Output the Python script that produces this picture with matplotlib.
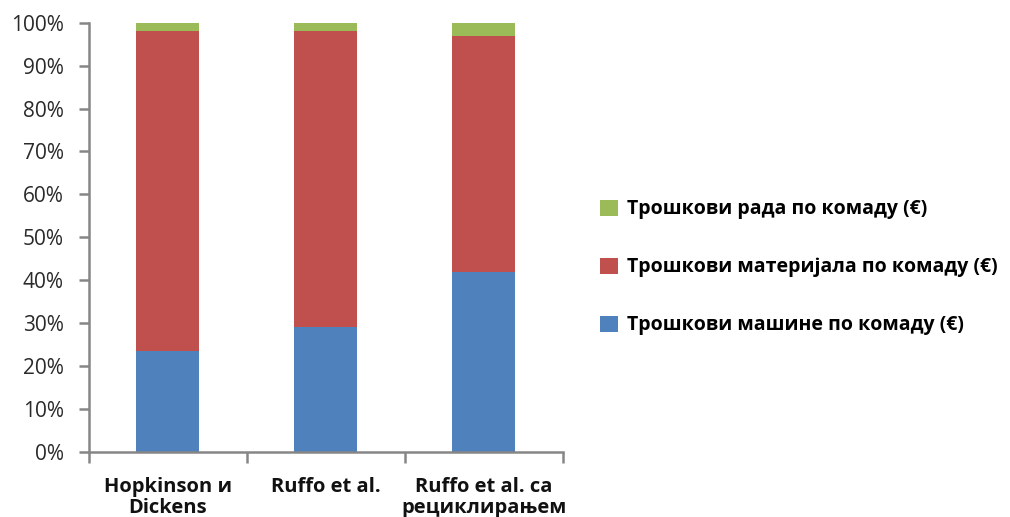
import matplotlib
matplotlib.use("Agg")
import matplotlib.pyplot as plt
from matplotlib.patches import Patch

categories = ["Hopkinson и\nDickens", "Ruffo et al.", "Ruffo et al. са\nрециклирањем"]
machine = [23.5, 29.0, 42.0]
material = [74.5, 69.0, 55.0]
labour = [2.0, 2.0, 3.0]
series_names = [
    "Трошкови машине по комаду (€)",
    "Трошкови материјала по комаду (€)",
    "Трошкови рада по комаду (€)",
]
colors = ["#4F81BD", "#C0504D", "#9BBB59"]
yticks = list(range(0, 101, 10))

plt.rcParams["font.family"] = ["Open Sans", "DejaVu Sans"]

fig = plt.figure(figsize=(10.10, 5.17), dpi=100)
ax = fig.add_axes([0.088, 0.126, 0.469, 0.830])

x = list(range(len(categories)))
bottom = [0.0] * len(categories)
for vals, col in zip([machine, material, labour], colors):
    ax.bar(x, vals, width=0.4, bottom=bottom, color=col, edgecolor="none", zorder=2)
    bottom = [b + v for b, v in zip(bottom, vals)]

ax.set_xlim(-0.5, len(categories) - 0.5)
ax.set_ylim(0, 100)
ax.set_yticks(yticks)
ax.set_yticklabels([f"{t}%" for t in yticks], fontsize=15, color="#2a2a2a")

# category boundaries as major ticks, names as minor ticks
ax.set_xticks([i - 0.5 for i in range(len(categories) + 1)])
ax.set_xticklabels([])
ax.set_xticks(x, minor=True)
ax.set_xticklabels(categories, minor=True, fontsize=14.5, fontweight="bold",
                   linespacing=1.05, color="#111111")
ax.tick_params(axis="x", which="minor", length=0, pad=18)
ax.tick_params(axis="x", which="major", length=8, width=1.8, color="#868686", direction="out")
ax.tick_params(axis="y", length=7, width=1.8, color="#868686", direction="out", pad=11)

for s in ["top", "right"]:
    ax.spines[s].set_visible(False)
for s in ["left", "bottom"]:
    ax.spines[s].set_color("#868686")
    ax.spines[s].set_linewidth(1.8)

handles = [Patch(facecolor=c, edgecolor="none") for c in colors][::-1]
labels = series_names[::-1]
fig.legend(handles, labels, loc="upper left", bbox_to_anchor=(0.577, 0.648),
           frameon=False, handlelength=0.9, handleheight=0.9, handletextpad=0.5,
           labelspacing=1.95, prop={"family": ["Open Sans", "DejaVu Sans"],
                                    "weight": "bold", "size": 14})

fig.savefig("out.png", dpi=100)
